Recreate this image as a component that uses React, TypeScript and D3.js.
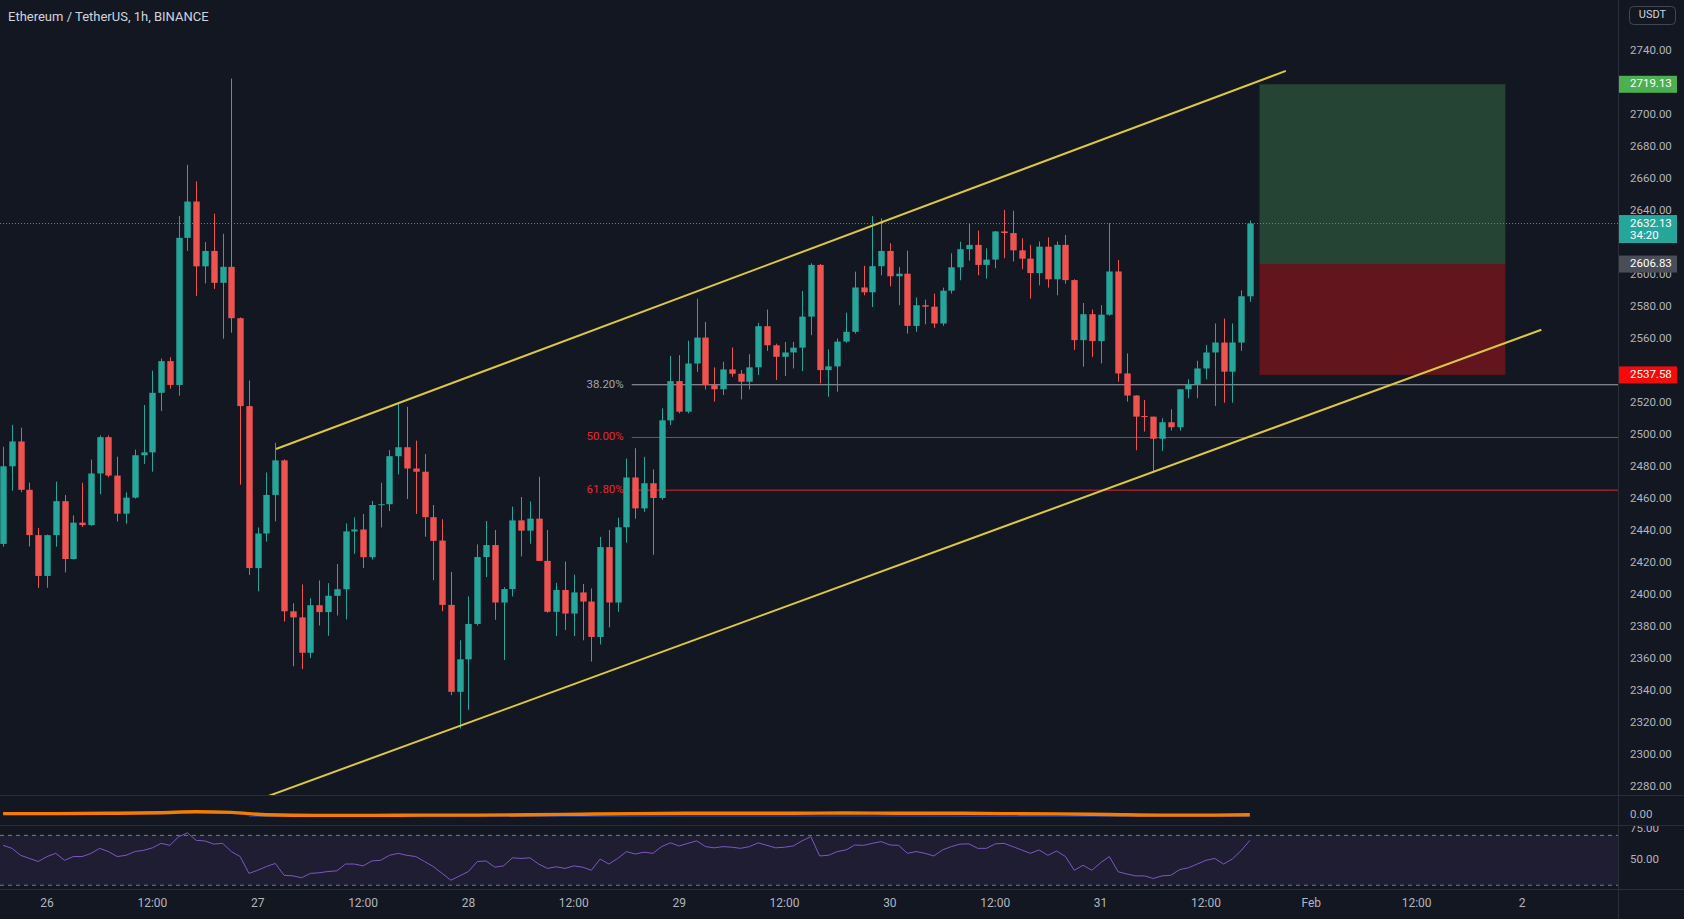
import React from "react";
import * as d3 from "d3";

// ---------- DATA ----------
const opens = [
  2432.0, 2480.5, 2496.0, 2465.8, 2437.5, 2412.0, 2437.5, 2458.7, 2422.6, 2445.3,
  2443.8, 2476.0, 2498.7, 2474.7, 2450.9, 2460.9, 2487.4, 2489.2, 2526.4, 2546.2,
  2531.3, 2623.2, 2645.9, 2605.4, 2615.0, 2595.1, 2605.1, 2573.0, 2518.1, 2416.9,
  2438.5, 2462.6, 2484.2, 2389.9, 2386.1, 2364.0, 2393.7, 2389.4, 2399.6, 2403.7,
  2439.8, 2441.0, 2423.7, 2456.3, 2456.8, 2486.8, 2492.4, 2479.1, 2477.1, 2448.7,
  2434.1, 2393.9, 2339.6, 2359.9, 2382.0, 2423.8, 2431.3, 2395.4, 2403.8, 2446.7,
  2440.3, 2447.8, 2421.4, 2389.6, 2403.2, 2388.5, 2401.7, 2396.0, 2373.9, 2430.0,
  2395.4, 2442.4, 2473.5, 2454.2, 2469.9, 2460.7, 2509.2, 2533.7, 2514.6, 2544.7,
  2560.9, 2531.2, 2528.6, 2541.0, 2538.3, 2533.3, 2542.3, 2568.0, 2556.1, 2548.9,
  2551.6, 2554.6, 2574.0, 2606.3, 2540.6, 2542.9, 2558.4, 2564.5, 2592.2, 2589.2,
  2605.5, 2615.0, 2599.2, 2600.8, 2568.2, 2581.1, 2580.2, 2569.7, 2590.2, 2604.8,
  2616.1, 2618.8, 2606.3, 2609.6, 2627.2, 2626.2, 2615.4, 2610.2, 2601.2, 2617.7,
  2597.3, 2618.8, 2596.8, 2559.3, 2575.5, 2558.7, 2575.2, 2602.2, 2538.5, 2524.7,
  2511.9, 2511.5, 2497.7, 2508.0, 2504.9, 2528.6, 2531.7, 2541.6, 2551.6, 2557.8,
  2539.6, 2557.8, 2586.7,
];
const highs = [
  2492.7, 2506.4, 2504.6, 2470.3, 2442.0, 2437.8, 2470.9, 2462.5, 2449.8, 2470.2,
  2484.7, 2499.8, 2499.8, 2486.5, 2464.2, 2490.9, 2518.8, 2540.2, 2547.9, 2548.6,
  2636.8, 2668.8, 2658.4, 2620.6, 2638.3, 2625.7, 2722.7, 2573.5, 2534.1, 2442.3,
  2476.6, 2495.2, 2484.8, 2394.9, 2406.7, 2398.0, 2409.2, 2407.5, 2419.4, 2444.8,
  2448.6, 2450.7, 2458.8, 2470.2, 2490.6, 2520.1, 2517.6, 2496.5, 2488.1, 2456.3,
  2447.4, 2414.5, 2371.8, 2399.2, 2431.7, 2446.3, 2440.7, 2404.9, 2455.3, 2461.3,
  2458.5, 2473.9, 2440.7, 2407.7, 2421.0, 2412.8, 2407.0, 2404.2, 2436.4, 2440.7,
  2448.4, 2485.3, 2491.8, 2486.4, 2478.5, 2516.7, 2549.3, 2549.9, 2558.9, 2585.2,
  2570.7, 2542.3, 2545.8, 2554.7, 2540.6, 2550.5, 2570.1, 2578.4, 2557.1, 2558.2,
  2558.2, 2590.0, 2607.3, 2606.9, 2553.5, 2560.3, 2576.5, 2602.1, 2605.7, 2636.8,
  2635.4, 2619.8, 2604.9, 2615.2, 2585.9, 2584.6, 2588.4, 2592.1, 2613.6, 2620.8,
  2632.3, 2627.7, 2616.7, 2627.5, 2640.6, 2640.1, 2622.9, 2618.8, 2620.9, 2623.5,
  2620.9, 2625.0, 2597.3, 2582.5, 2578.4, 2581.1, 2632.3, 2609.4, 2551.0, 2525.0,
  2521.9, 2511.5, 2510.5, 2516.1, 2528.6, 2534.8, 2546.4, 2556.2, 2569.7, 2572.8,
  2569.7, 2590.4, 2634.0,
];
const lows = [
  2430.3, 2465.3, 2464.3, 2430.4, 2404.6, 2404.6, 2430.3, 2414.2, 2422.3, 2442.6,
  2443.3, 2463.1, 2473.6, 2446.0, 2444.7, 2460.3, 2482.0, 2477.1, 2515.0, 2529.0,
  2524.6, 2615.0, 2586.9, 2594.7, 2591.3, 2560.2, 2563.9, 2469.0, 2412.6, 2402.4,
  2433.4, 2446.1, 2383.5, 2355.6, 2353.8, 2360.7, 2381.0, 2374.6, 2387.3, 2384.8,
  2425.8, 2416.9, 2422.3, 2442.3, 2452.5, 2475.4, 2460.1, 2450.7, 2436.5, 2409.3,
  2389.9, 2337.5, 2316.6, 2328.4, 2381.0, 2411.3, 2384.6, 2359.5, 2399.2, 2424.2,
  2432.1, 2421.3, 2389.0, 2374.5, 2378.2, 2374.5, 2371.8, 2358.5, 2369.2, 2379.9,
  2389.6, 2432.8, 2447.8, 2452.1, 2425.2, 2459.6, 2506.3, 2513.6, 2513.6, 2539.5,
  2528.5, 2520.9, 2525.0, 2536.4, 2522.3, 2528.5, 2537.5, 2552.6, 2534.4, 2536.9,
  2541.6, 2540.0, 2562.4, 2532.3, 2524.0, 2527.1, 2557.6, 2563.4, 2587.3, 2580.0,
  2599.8, 2592.9, 2581.1, 2563.4, 2564.5, 2569.2, 2567.0, 2568.2, 2588.4, 2596.7,
  2609.0, 2599.8, 2597.7, 2604.2, 2610.5, 2608.4, 2603.6, 2585.2, 2593.6, 2592.1,
  2587.3, 2594.6, 2553.1, 2542.7, 2548.9, 2544.8, 2574.6, 2533.3, 2520.9, 2490.5,
  2502.2, 2476.4, 2490.1, 2502.8, 2502.8, 2523.0, 2523.0, 2534.8, 2518.2, 2520.2,
  2520.2, 2552.6, 2583.2,
];
const closes = [
  2480.5, 2496.0, 2465.8, 2437.5, 2412.0, 2437.5, 2458.7, 2422.6, 2445.3, 2443.8,
  2476.0, 2498.7, 2474.7, 2450.9, 2460.9, 2487.4, 2489.2, 2526.4, 2546.2, 2531.3,
  2623.2, 2645.9, 2605.4, 2615.0, 2595.1, 2605.1, 2573.0, 2518.1, 2416.9, 2438.5,
  2462.6, 2484.2, 2389.9, 2386.1, 2364.0, 2393.7, 2389.4, 2399.6, 2403.7, 2439.8,
  2441.0, 2423.7, 2456.3, 2456.8, 2486.8, 2492.4, 2479.1, 2477.1, 2448.7, 2433.9,
  2393.9, 2339.6, 2359.9, 2382.0, 2423.8, 2431.3, 2395.4, 2403.8, 2446.7, 2440.3,
  2447.8, 2421.4, 2389.6, 2403.2, 2388.5, 2401.7, 2396.0, 2373.9, 2430.0, 2395.4,
  2442.4, 2473.5, 2454.2, 2469.9, 2460.7, 2509.2, 2533.7, 2514.6, 2544.7, 2560.9,
  2531.2, 2528.6, 2541.0, 2538.3, 2533.3, 2542.3, 2568.0, 2556.1, 2548.9, 2551.6,
  2554.6, 2574.0, 2606.3, 2540.6, 2542.9, 2558.4, 2564.5, 2592.2, 2589.2, 2605.5,
  2615.0, 2599.2, 2600.8, 2568.2, 2581.1, 2580.2, 2569.7, 2590.2, 2604.8, 2616.1,
  2618.8, 2606.3, 2609.6, 2627.2, 2626.2, 2615.4, 2610.2, 2601.2, 2617.7, 2597.3,
  2618.8, 2596.8, 2559.3, 2575.5, 2558.7, 2575.2, 2602.2, 2538.5, 2524.7, 2511.5,
  2511.5, 2497.7, 2508.0, 2504.9, 2528.6, 2531.7, 2541.6, 2551.6, 2557.8, 2539.6,
  2557.8, 2586.7, 2632.13,
];

const rsiValues = [
  62, 59.6, 54, 51.5, 49, 53, 55.6, 50, 53, 53,
  55.5, 59.6, 57, 53, 54, 57, 58, 60, 63.6, 62,
  69, 72, 66, 65.5, 63, 63.6, 57, 53, 39.5, 42,
  45, 47.5, 38, 37.5, 36, 39.5, 40, 41, 41.5, 47,
  47, 45.5, 49.5, 50, 54, 55.6, 54, 53, 49, 45,
  39.5, 34, 37.5, 41, 49, 49.5, 44.5, 45.5, 52, 51.5,
  52, 47, 43.5, 44.8, 43.5, 45.5, 44.5, 42, 51, 47,
  51.5, 57, 55, 56.5, 55.6, 61, 64, 61.5, 63.6, 65.6,
  61, 60, 61, 60.5, 59.6, 61, 64, 62, 60, 60.5,
  61.5, 65.6, 69, 53.5, 54, 57, 58.3, 62.3, 62, 63.6,
  65, 62.3, 62, 55.6, 57, 55.6, 53.5, 58.3, 61, 63,
  63.2, 59.6, 59.6, 63.2, 63.6, 61, 58.3, 55.6, 58.3, 54,
  57.5, 53, 42, 46, 42, 48, 53, 40.8, 39, 37.5,
  37.5, 35.4, 37.5, 38, 42.5, 44, 47, 50, 51.5, 47,
  51, 57.7, 66,
];

const oscIndex = [0, 6, 12, 18, 22, 26, 30, 36, 42, 48, 54, 60, 66, 72, 78, 84, 90, 96, 102, 108, 114, 120, 126, 132, 138, 142];
const oscValues = [0.3, 0.3, 0.4, 0.6, 0.9, 0.7, -0.1, -0.3, -0.3, -0.2, -0.2, -0.1, 0.1, 0.3, 0.4, 0.4, 0.4, 0.5, 0.4, 0.4, 0.3, 0.2, 0.0, -0.2, -0.2, -0.1];
const sigIndex = [28, 40, 60, 80, 100, 120, 142];
const sigValues = [-0.6, -0.7, -0.6, -0.5, -0.5, -0.6, -0.6];

// visible price-axis labels (2540, 2620, 2720, 2760 are hidden behind tags)
const priceTicks = [2280, 2300, 2320, 2340, 2360, 2380, 2400, 2420, 2440, 2460, 2480, 2500, 2520, 2560, 2580, 2600, 2640, 2660, 2680, 2700, 2740];
const timeLabels = ["26", "12:00", "27", "12:00", "28", "12:00", "29", "12:00", "30", "12:00", "31", "12:00", "Feb", "12:00", "2"];
const timeIndex = [5, 17, 29, 41, 53, 65, 77, 89, 101, 113, 125, 137, 149, 161, 173];

const fibHigh = 2638;
const fibLow = 2359;
const fibRatios = [0.382, 0.5, 0.618];
const fibLabels = ["38.20%", "50.00%", "61.80%"];
const fibStartIndex = 71.6;

const upperChannel = [[31.08, 2491.3], [146.1, 2727.5]];
const lowerChannel = [[30.1, 2274.3], [175.2, 2565.8]];

const positionStart = 143.1;
const positionEnd = 171.1;
const targetPrice = 2719.13;
const entryPrice = 2606.83;
const stopPrice = 2537.58;
const lastPrice = 2632.13;

// ---------- LAYOUT ----------
const W = 1684;
const H = 919;
const plotRight = 1618;
const mainBottom = 795;
const oscBottom = 825;
const rsiBottom = 889;

const BG = "#131722";
const UP = "#26a69a";
const DOWN = "#ef5350";
const TEXT = "#b2b5be";
const BORDER = "#2a2e39";
const FONT = "Roboto, 'Open Sans', sans-serif";

export default function App() {
  const x = d3.scaleLinear().domain([-0.353, 183.93]).range([0, plotRight]);
  const y = d3.scaleLinear().domain([2275.15, 2771.78]).range([mainBottom, 0]);
  const yRsi = d3.scaleLinear().domain([50, 75]).range([860.3, 829.15]);
  const yOsc = d3.scaleLinear().domain([0, 1]).range([814.5, 811.5]);

  const bodyW = 6.4;
  const candles = closes.map((c, i) => ({ i, o: opens[i], h: highs[i], l: lows[i], c }));

  const rsiLine = d3.line<number>().x((_, i) => x(i)).y((v) => yRsi(v))(rsiValues) || "";
  const oscLine = d3.line<number>().x((_, k) => x(oscIndex[k])).y((v) => yOsc(v)).curve(d3.curveMonotoneX)(oscValues) || "";
  const sigLine = d3.line<number>().x((_, k) => x(sigIndex[k])).y((v) => yOsc(v)).curve(d3.curveMonotoneX)(sigValues) || "";

  const fibPrices = fibRatios.map((r) => fibHigh - r * (fibHigh - fibLow));
  const fibLineColors = ["#a3a6af", "#e0282e", "#e0282e"];
  const fibTextColors = ["#a3a6af", "#e8262b", "#e8262b"];

  const tagX = plotRight + 1;
  const tagW = 58;
  const tagH = 17;

  return (
    <svg
      width={W}
      height={H}
      style={{ position: "absolute", left: 0, top: 0, display: "block", background: BG }}
      fontFamily={FONT}
    >
      <defs>
        <clipPath id="mainClip">
          <rect x={0} y={0} width={plotRight} height={mainBottom} />
        </clipPath>
        <clipPath id="oscClip">
          <rect x={0} y={mainBottom} width={plotRight} height={oscBottom - mainBottom} />
        </clipPath>
        <clipPath id="rsiClip">
          <rect x={0} y={oscBottom} width={plotRight} height={rsiBottom - oscBottom} />
        </clipPath>
      </defs>
      <rect x={0} y={0} width={W} height={H} fill={BG} />

      {/* main pane */}
      <g clipPath="url(#mainClip)">
        {/* position box */}
        <rect
          x={x(positionStart)}
          y={y(targetPrice)}
          width={x(positionEnd) - x(positionStart)}
          height={y(entryPrice) - y(targetPrice)}
          fill="#264434"
        />
        <rect
          x={x(positionStart)}
          y={y(entryPrice)}
          width={x(positionEnd) - x(positionStart)}
          height={y(stopPrice) - y(entryPrice)}
          fill="#62151c"
        />

        {/* fib levels */}
        {fibPrices.map((p, k) => (
          <g key={"fib" + k}>
            <line x1={x(fibStartIndex)} x2={plotRight} y1={y(p)} y2={y(p)} stroke={fibLineColors[k]} strokeWidth={1} />
            <text
              x={x(fibStartIndex) - 8}
              y={y(p)}
              textAnchor="end"
              dominantBaseline="middle"
              fontSize={11.5}
              fill={fibTextColors[k]}
            >
              {fibLabels[k]}
            </text>
          </g>
        ))}

        {/* last price dotted line */}
        <line x1={0} x2={plotRight} y1={y(lastPrice)} y2={y(lastPrice)} stroke={UP} strokeWidth={1} strokeDasharray="1 2" />

        {/* candles */}
        {candles.map((d) => {
          const col = d.c >= d.o ? UP : DOWN;
          const top = y(Math.max(d.o, d.c));
          const bot = y(Math.min(d.o, d.c));
          const cx = Math.round(x(d.i)) + 0.5;
          return (
            <g key={"c" + d.i}>
              <line x1={cx} x2={cx} y1={y(d.h)} y2={y(d.l)} stroke={col} strokeWidth={1} />
              <rect x={cx - bodyW / 2} y={top} width={bodyW} height={Math.max(1, bot - top)} fill={col} />
            </g>
          );
        })}

        {/* channel */}
        {[upperChannel, lowerChannel].map((pts, k) => (
          <line
            key={"ch" + k}
            x1={x(pts[0][0])}
            y1={y(pts[0][1])}
            x2={x(pts[1][0])}
            y2={y(pts[1][1])}
            stroke="#dcc83a"
            strokeWidth={2}
          />
        ))}
      </g>

      {/* title */}
      <text x={8} y={21} fontSize={13} fill="#d1d4dc">
        Ethereum / TetherUS, 1h, BINANCE
      </text>

      {/* osc pane */}
      <g clipPath="url(#oscClip)">
        <path d={sigLine} fill="none" stroke="#1e3a8a" strokeWidth={1.5} />
        <path d={oscLine} fill="none" stroke="#f57c00" strokeWidth={3.4} />
      </g>

      {/* rsi pane */}
      <g clipPath="url(#rsiClip)">
        <rect x={0} y={yRsi(70)} width={plotRight} height={yRsi(30) - yRsi(70)} fill="rgba(126,87,194,0.1)" />
        <line x1={0} x2={plotRight} y1={yRsi(70)} y2={yRsi(70)} stroke="#787b86" strokeDasharray="4 4" />
        <line x1={0} x2={plotRight} y1={yRsi(30)} y2={yRsi(30)} stroke="#787b86" strokeDasharray="4 4" />
        <path d={rsiLine} fill="none" stroke="#7e57c2" strokeWidth={1} />
      </g>

      {/* separators */}
      <line x1={0} x2={W} y1={mainBottom + 0.5} y2={mainBottom + 0.5} stroke={BORDER} />
      <line x1={0} x2={W} y1={oscBottom + 0.5} y2={oscBottom + 0.5} stroke={BORDER} />
      <line x1={0} x2={W} y1={rsiBottom + 0.5} y2={rsiBottom + 0.5} stroke={BORDER} />
      <line x1={plotRight + 0.5} x2={plotRight + 0.5} y1={0} y2={H} stroke={BORDER} />

      {/* price axis */}
      <g>
        {priceTicks.map((p) => (
          <text key={"pt" + p} x={1630} y={y(p)} dominantBaseline="middle" fontSize={11.5} fill={TEXT}>
            {p.toFixed(2)}
          </text>
        ))}
        <text x={1630} y={815} dominantBaseline="middle" fontSize={11.5} fill={TEXT}>
          0.00
        </text>
        <text x={1630} y={yRsi(75)} dominantBaseline="middle" fontSize={11.5} fill={TEXT}>
          75.00
        </text>
        <text x={1630} y={yRsi(50)} dominantBaseline="middle" fontSize={11.5} fill={TEXT}>
          50.00
        </text>
      </g>
      {/* cover top of RSI label overflow into osc pane */}
      <rect x={plotRight + 1} y={oscBottom - 6} width={W - plotRight} height={6} fill={BG} />
      <line x1={plotRight + 1} x2={W} y1={oscBottom + 0.5} y2={oscBottom + 0.5} stroke={BORDER} />

      {/* USDT box */}
      <rect x={1629.5} y={6.5} width={46} height={18} rx={4} fill={BG} stroke="#434651" />
      <text x={1652.5} y={15.5} textAnchor="middle" dominantBaseline="middle" fontSize={11} fill="#d1d4dc">
        USDT
      </text>

      {/* price tags */}
      <rect x={tagX} y={y(targetPrice) - tagH / 2} width={tagW} height={tagH} fill="#4caf50" />
      <text x={1630} y={y(targetPrice)} dominantBaseline="middle" fontSize={11.5} fill="#ffffff">
        {targetPrice.toFixed(2)}
      </text>

      <rect x={tagX} y={y(lastPrice) - tagH / 2} width={tagW} height={tagH + 11} fill={UP} />
      <text x={1630} y={y(lastPrice)} dominantBaseline="middle" fontSize={11.5} fill="#ffffff">
        {lastPrice.toFixed(2)}
      </text>
      <text x={1630} y={y(lastPrice) + 12.5} dominantBaseline="middle" fontSize={11.5} fill="#ffffff">
        34:20
      </text>

      <rect x={tagX} y={y(entryPrice) - tagH / 2} width={tagW} height={tagH} fill="#4a4d56" />
      <text x={1630} y={y(entryPrice)} dominantBaseline="middle" fontSize={11.5} fill="#ffffff">
        {entryPrice.toFixed(2)}
      </text>

      <rect x={tagX} y={y(stopPrice) - tagH / 2} width={tagW} height={tagH} fill="#f50a0a" />
      <text x={1630} y={y(stopPrice)} dominantBaseline="middle" fontSize={11.5} fill="#ffffff">
        {stopPrice.toFixed(2)}
      </text>

      {/* time axis */}
      {timeLabels.map((t, k) => (
        <text
          key={"tl" + k}
          x={x(timeIndex[k])}
          y={904}
          textAnchor="middle"
          dominantBaseline="middle"
          fontSize={12}
          fill={TEXT}
        >
          {t}
        </text>
      ))}
    </svg>
  );
}
